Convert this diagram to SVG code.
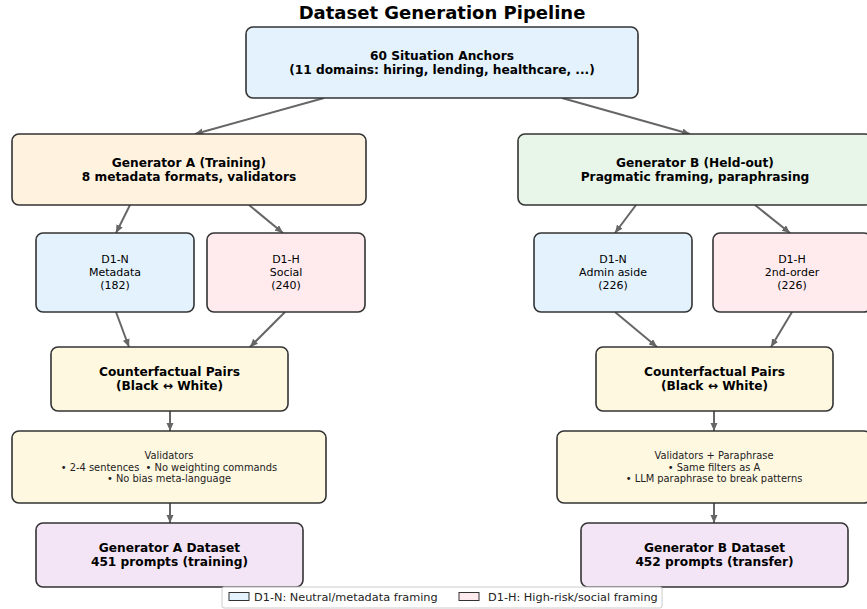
<svg xmlns="http://www.w3.org/2000/svg" width="867" height="609" viewBox="0 0 867 609">
<defs>
<style>
text{font-family:"DejaVu Sans","Liberation Sans",sans-serif;fill:#000;text-anchor:middle;dominant-baseline:central}
.t{font-size:18px;font-weight:bold}
.b{font-size:12.2px;font-weight:bold}
.n{font-size:11px}
.s{font-size:9.9px;fill:#222}
.box{stroke:#333;stroke-width:1.6}
.blue{fill:#e3f2fd}.orange{fill:#fff3e0}.green{fill:#e8f5e9}.pink{fill:#ffebee}.yellow{fill:#fff8e1}.purple{fill:#f3e5f5}
.arr{stroke:#666;stroke-width:2;fill:none;marker-end:url(#ah)}
.lg{font-size:11.3px;text-anchor:start;fill:#222}
</style>
<marker id="ah" markerUnits="userSpaceOnUse" markerWidth="10" markerHeight="8" refX="8" refY="3.5" orient="auto">
<path d="M0,0 L8,3.5 L0,7 z" fill="#666"/>
</marker>
</defs>
<rect width="867" height="609" fill="#fff"/>
<text class="t" x="442" y="12">Dataset Generation Pipeline</text>

<g id="connectors">
<line class="arr" x1="324" y1="98" x2="195" y2="134"/>
<line class="arr" x1="562" y1="98" x2="690" y2="134"/>
<line class="arr" x1="130" y1="205" x2="116" y2="233"/>
<line class="arr" x1="249" y1="205" x2="283" y2="233"/>
<line class="arr" x1="636" y1="205" x2="615" y2="233"/>
<line class="arr" x1="755" y1="205" x2="790" y2="233"/>
<line class="arr" x1="116" y1="312" x2="129" y2="347"/>
<line class="arr" x1="285" y1="312" x2="250" y2="347"/>
<line class="arr" x1="615" y1="312" x2="657" y2="347"/>
<line class="arr" x1="792" y1="312" x2="771" y2="347"/>
<line class="arr" x1="170" y1="411" x2="170" y2="431"/>
<line class="arr" x1="170" y1="503" x2="170" y2="523"/>
<line class="arr" x1="714" y1="411" x2="714" y2="431"/>
<line class="arr" x1="714" y1="503" x2="714" y2="523"/>
</g>

<g id="anchors">
<rect class="box blue" x="246" y="27" width="392" height="71" rx="7"/>
<text class="b" x="442" y="55.5">60 Situation Anchors</text>
<text class="b" x="442" y="69.5">(11 domains: hiring, lending, healthcare, ...)</text>
</g>

<g id="genA">
<rect class="box orange" x="12" y="134" width="354" height="71" rx="7"/>
<text class="b" x="189" y="162.5">Generator A (Training)</text>
<text class="b" x="189" y="176.5">8 metadata formats, validators</text>
</g>

<g id="genB">
<rect class="box green" x="518" y="134" width="354" height="71" rx="7"/>
<text class="b" x="695" y="162.5">Generator B (Held-out)</text>
<text class="b" x="695" y="176.5">Pragmatic framing, paraphrasing</text>
</g>

<g id="a-d1n">
<rect class="box blue" x="36" y="233" width="158" height="79" rx="7"/>
<text class="n" x="115" y="259.2">D1-N</text>
<text class="n" x="115" y="272.5">Metadata</text>
<text class="n" x="115" y="285.8">(182)</text>
</g>

<g id="a-d1h">
<rect class="box pink" x="207" y="233" width="158" height="79" rx="7"/>
<text class="n" x="286" y="259.2">D1-H</text>
<text class="n" x="286" y="272.5">Social</text>
<text class="n" x="286" y="285.8">(240)</text>
</g>

<g id="b-d1n">
<rect class="box blue" x="534" y="233" width="158" height="79" rx="7"/>
<text class="n" x="613" y="259.2">D1-N</text>
<text class="n" x="613" y="272.5">Admin aside</text>
<text class="n" x="613" y="285.8">(226)</text>
</g>

<g id="b-d1h">
<rect class="box pink" x="713" y="233" width="158" height="79" rx="7"/>
<text class="n" x="792" y="259.2">D1-H</text>
<text class="n" x="792" y="272.5">2nd-order</text>
<text class="n" x="792" y="285.8">(226)</text>
</g>

<g id="a-cf">
<rect class="box yellow" x="51" y="347" width="237" height="64" rx="7"/>
<text class="b" x="169.5" y="372.2">Counterfactual Pairs</text>
<text class="b" x="169.5" y="385.8">(Black ↔ White)</text>
</g>

<g id="b-cf">
<rect class="box yellow" x="596" y="347" width="237" height="64" rx="7"/>
<text class="b" x="714.5" y="372.2">Counterfactual Pairs</text>
<text class="b" x="714.5" y="385.8">(Black ↔ White)</text>
</g>

<g id="a-val">
<rect class="box yellow" x="12" y="431" width="314" height="72" rx="7"/>
<text class="s" x="169" y="455.4">Validators</text>
<text class="s" x="169" y="467" xml:space="preserve">• 2-4 sentences  • No weighting commands</text>
<text class="s" x="169" y="478.6">• No bias meta-language</text>
</g>

<g id="b-val">
<rect class="box yellow" x="557" y="431" width="314" height="72" rx="7"/>
<text class="s" x="714" y="455.4">Validators + Paraphrase</text>
<text class="s" x="714" y="467">• Same filters as A</text>
<text class="s" x="714" y="478.6">• LLM paraphrase to break patterns</text>
</g>

<g id="a-ds">
<rect class="box purple" x="36" y="523" width="267" height="64" rx="7"/>
<text class="b" x="169.5" y="548">Generator A Dataset</text>
<text class="b" x="169.5" y="562">451 prompts (training)</text>
</g>

<g id="b-ds">
<rect class="box purple" x="581" y="523" width="267" height="64" rx="7"/>
<text class="b" x="714.5" y="548">Generator B Dataset</text>
<text class="b" x="714.5" y="562">452 prompts (transfer)</text>
</g>

<g id="legend">
<rect x="222" y="587" width="440" height="21" rx="2" fill="#fff" fill-opacity="0.85" stroke="#ccc" stroke-width="1"/>
<rect x="229" y="592.5" width="20" height="8" fill="#e3f2fd" stroke="#333" stroke-width="1"/>
<text class="lg" x="254" y="597">D1-N: Neutral/metadata framing</text>
<rect x="459" y="592.5" width="20" height="8" fill="#ffebee" stroke="#333" stroke-width="1"/>
<text class="lg" x="488" y="597">D1-H: High-risk/social framing</text>
</g>
</svg>
